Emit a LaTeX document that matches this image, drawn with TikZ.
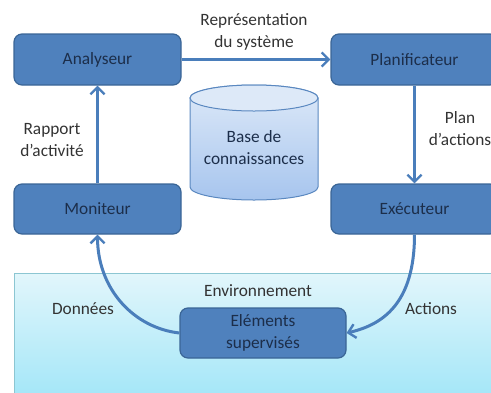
\documentclass[tikz,border=0pt]{standalone}
\usepackage{fontspec}
\setmainfont{Carlito}
\usetikzlibrary{arrows.meta}
\definecolor{boxfill}{HTML}{4F81BD}
\definecolor{boxline}{HTML}{3A6596}
\definecolor{boxtext}{HTML}{1C2E4A}
\definecolor{arrowc}{HTML}{4A7EBB}
\definecolor{lbl}{HTML}{333333}
\definecolor{envtop}{HTML}{E2F6FB}
\definecolor{envbot}{HTML}{A2E6F8}
\definecolor{envline}{HTML}{8CC6D2}
\definecolor{cyltop}{HTML}{DDE9F8}
\definecolor{cylbot}{HTML}{A7C5EE}
\definecolor{cylline}{HTML}{5A88C0}
\tikzset{
  block/.style={draw=boxline, line width=1.2pt, fill=boxfill, rounded corners=8pt,
    minimum width=167pt, minimum height=51pt, text=boxtext, align=center,
    font=\fontsize{17.3}{22}\selectfont},
  flow/.style={draw=arrowc, line width=3pt, -{Straight Barb[length=7pt,width=14pt,line width=2.4pt]}},
  lab/.style={text=lbl, align=center, font=\fontsize{17.3}{22}\selectfont},
}
\begin{document}
\begin{tikzpicture}[x=1pt,y=-1pt]
\useasboundingbox (0,0) rectangle (491,392);
\clip (0,0) rectangle (491,392);
% environment
\shade[top color=envtop, bottom color=envbot] (14,273) rectangle (500,400);
\draw[envline, line width=0.8pt] (14,400) -- (14,273) -- (500,273);
% knowledge base cylinder
\shadedraw[top color=cyltop, bottom color=cylbot, draw=cylline, line width=1pt]
  (190,98) -- (190,187) arc[start angle=180, end angle=0, x radius=64, y radius=13]
  -- (318,98) arc[start angle=0, end angle=-180, x radius=64, y radius=13] -- cycle;
\draw[cylline, line width=1pt, fill=cyltop] (254,98) ellipse[x radius=64, y radius=13];
\node[lab, text=boxtext] (kb) at (254,148) {Base de\\connaissances};
% blocks
\node[block] (an) at (97.5,59.5) {Analyseur};
\node[block] (pl) at (414.5,59.5) {Planificateur};
\node[block, minimum height=50pt] (mo) at (97.5,209) {Moniteur};
\node[block, minimum height=50pt] (ex) at (414.5,209) {Exécuteur};
\node[block, minimum width=166pt, minimum height=50pt] (el) at (263,333) {Eléments\\supervisés};
% connectors
\draw[flow] (an.east) -- (pl.west);
\draw[flow] (pl.south) -- (ex.north);
\draw[flow] (mo.north) -- (an.south);
\draw[flow] (ex.south) .. controls +(0,70) and +(35,-8) .. (el.east);
\draw[flow] (el.west) .. controls +(-45,-5) and +(0,55) .. (mo.south);
% labels
\node[lab] (l1) at (254,32) {Représentation\\du système};
\node[lab] (l2) at (460,129) {Plan\\d’actions};
\node[lab] (l3) at (52,140) {Rapport\\d’activité};
\node[lab] (l4) at (258,291) {Environnement};
\node[lab] (l5) at (83,309) {Données};
\node[lab] (l6) at (431,309) {Actions};
\end{tikzpicture}
\end{document}
